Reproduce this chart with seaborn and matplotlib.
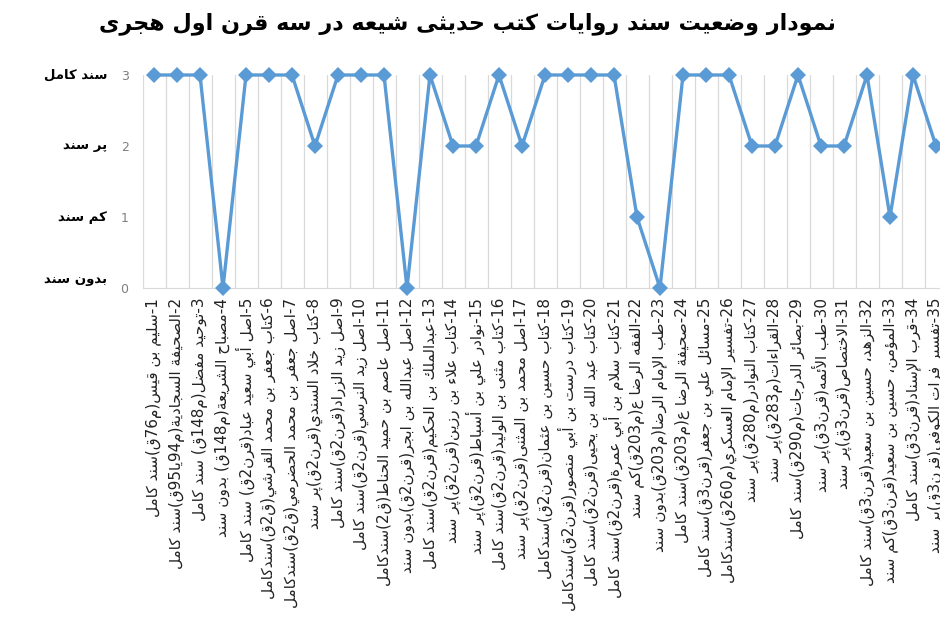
import re
import pandas as pd
import matplotlib
matplotlib.use("Agg")
from matplotlib import pyplot as plt
import matplotlib.transforms as mtransforms
import seaborn as sns

# data
books = [
    "1-سليم بن قيس(م76ق)سند كامل",
    "2-الصحيفة السجادية(م94يا95ق)سند كامل",
    "3-توحيد مفضل(م148ق) سند كامل",
    "4-مصباح الشريعة(م148ق) بدون سند",
    "5-اصل أبي سعيد عباد(قرن2ق) سند كامل",
    "6-كتاب جعفر بن محمد القرشي(ق2ق)سندكامل",
    "7-اصل جعفر بن محمد الحضرمي(ق2ق)سندكامل",
    "8-كتاب خلاد السندي(قرن2ق)پر سند",
    "9-اصل زيد الزراد(قرن2ق)سند كامل",
    "10-اصل زيد النرسي(قرن2ق)سند كامل",
    "11-اصل عاصم بن حميد الحناط(ق2)سندكامل",
    "12-اصل عبدالله بن ابجر(قرن2ق)بدون سند",
    "13-عبدالملك بن الحكيم(قرن2ق)سند كامل",
    "14-كتاب علاء بن رزين(قرن2ق)پر سند",
    "15-نوادر علي بن أسباط(قرن2ق)پر سند",
    "16-كتاب مثنى بن الوليد(قرن2ق)سند كامل",
    "17-اصل محمد بن المثنى(قرن2ق)پر سند",
    "18-كتاب حسين بن عثمان(قرن2ق)سندكامل",
    "19-كتاب درست بن أبي منصور(قرن2ق)سندكامل",
    "20-كتاب عبد الله بن يحيى(قرن2ق)سند كامل",
    "21-كتاب سلام بن أبي عمرة(قرن2ق)سند كامل",
    "22-الفقه الرضا ع(م203ق)كم سند",
    "23-طب الإمام الرضا(م203ق)بدون سند",
    "24-صحيفة الرضا ع(م203ق)سند كامل",
    "25-مسائل علي بن جعفر(قرن3ق)سند كامل",
    "26-تفسير الإمام العسكري(م260ق)سندكامل",
    "27-كتاب النوادر(م280ق)پر سند",
    "28-القراءات(م283ق)پر سند",
    "29-بصائر الدرجات(م290ق)سند كامل",
    "30-طب الأئمه(قرن3ق)پر سند",
    "31-الاختصاص(قرن3ق)پر سند",
    "32-الزهد، حسين بن سعيد(قرن3ق)سند كامل",
    "33-المؤمن، حسين بن سعيد(قرن3ق)كم سند",
    "34-قرب الإسناد(قرن3ق)سند كامل",
    "35-تفسير فرات الكوفي(قرن3ق)پر سند",
]
status = [3, 3, 3, 0, 3, 3, 3, 2, 3, 3, 3, 0, 3, 2, 2, 3, 2, 3, 3, 3,
          3, 1, 0, 3, 3, 3, 2, 2, 3, 2, 2, 3, 1, 3, 2]
level_values = [3, 2, 1, 0]
level_names = ["سند کامل", "پر سند", "کم سند", "بدون سند"]
title = "نمودار وضعیت سند روایات کتب حدیثی شیعه در سه قرن اول هجری"

# --- tiny arabic shaper + rtl reorder (matplotlib does no shaping) ---
FORMS = {  # isolated, final, initial, medial
    'ء': ('\uFE80', None, None, None),
    'آ': ('\uFE81', '\uFE82', None, None),
    'أ': ('\uFE83', '\uFE84', None, None),
    'ؤ': ('\uFE85', '\uFE86', None, None),
    'إ': ('\uFE87', '\uFE88', None, None),
    'ئ': ('\uFE89', '\uFE8A', '\uFE8B', '\uFE8C'),
    'ا': ('\uFE8D', '\uFE8E', None, None),
    'ب': ('\uFE8F', '\uFE90', '\uFE91', '\uFE92'),
    'ة': ('\uFE93', '\uFE94', None, None),
    'ت': ('\uFE95', '\uFE96', '\uFE97', '\uFE98'),
    'ث': ('\uFE99', '\uFE9A', '\uFE9B', '\uFE9C'),
    'ج': ('\uFE9D', '\uFE9E', '\uFE9F', '\uFEA0'),
    'ح': ('\uFEA1', '\uFEA2', '\uFEA3', '\uFEA4'),
    'خ': ('\uFEA5', '\uFEA6', '\uFEA7', '\uFEA8'),
    'د': ('\uFEA9', '\uFEAA', None, None),
    'ذ': ('\uFEAB', '\uFEAC', None, None),
    'ر': ('\uFEAD', '\uFEAE', None, None),
    'ز': ('\uFEAF', '\uFEB0', None, None),
    'س': ('\uFEB1', '\uFEB2', '\uFEB3', '\uFEB4'),
    'ش': ('\uFEB5', '\uFEB6', '\uFEB7', '\uFEB8'),
    'ص': ('\uFEB9', '\uFEBA', '\uFEBB', '\uFEBC'),
    'ض': ('\uFEBD', '\uFEBE', '\uFEBF', '\uFEC0'),
    'ط': ('\uFEC1', '\uFEC2', '\uFEC3', '\uFEC4'),
    'ظ': ('\uFEC5', '\uFEC6', '\uFEC7', '\uFEC8'),
    'ع': ('\uFEC9', '\uFECA', '\uFECB', '\uFECC'),
    'غ': ('\uFECD', '\uFECE', '\uFECF', '\uFED0'),
    'ف': ('\uFED1', '\uFED2', '\uFED3', '\uFED4'),
    'ق': ('\uFED5', '\uFED6', '\uFED7', '\uFED8'),
    'ك': ('\uFED9', '\uFEDA', '\uFEDB', '\uFEDC'),
    'ل': ('\uFEDD', '\uFEDE', '\uFEDF', '\uFEE0'),
    'م': ('\uFEE1', '\uFEE2', '\uFEE3', '\uFEE4'),
    'ن': ('\uFEE5', '\uFEE6', '\uFEE7', '\uFEE8'),
    'ه': ('\uFEE9', '\uFEEA', '\uFEEB', '\uFEEC'),
    'و': ('\uFEED', '\uFEEE', None, None),
    'ى': ('\uFEEF', '\uFEF0', None, None),
    'ي': ('\uFEF1', '\uFEF2', '\uFEF3', '\uFEF4'),
    'پ': ('\uFB56', '\uFB57', '\uFB58', '\uFB59'),
    'چ': ('\uFB7A', '\uFB7B', '\uFB7C', '\uFB7D'),
    'ژ': ('\uFB8A', '\uFB8B', None, None),
    'ک': ('\uFB8E', '\uFB8F', '\uFB90', '\uFB91'),
    'گ': ('\uFB92', '\uFB93', '\uFB94', '\uFB95'),
    'ی': ('\uFBFC', '\uFBFD', '\uFBFE', '\uFBFF'),
}
LAM_ALEF = {'ا': ('\uFEFB', '\uFEFC'), 'أ': ('\uFEF7', '\uFEF8'),
            'إ': ('\uFEF9', '\uFEFA'), 'آ': ('\uFEF5', '\uFEF6')}


def dual(c):
    return c in FORMS and FORMS[c][2] is not None


def joins_right(c):
    return c in FORMS and FORMS[c][1] is not None


def shape(s):
    out = []
    i = 0
    n = len(s)
    while i < n:
        c = s[i]
        if c not in FORMS:
            out.append(c)
            i += 1
            continue
        prev = s[i - 1] if i > 0 else ''
        link_prev = dual(prev) and joins_right(c)
        if c == 'ل' and i + 1 < n and s[i + 1] in LAM_ALEF:
            iso, fin = LAM_ALEF[s[i + 1]]
            out.append(fin if link_prev else iso)
            i += 2
            continue
        nxt = s[i + 1] if i + 1 < n else ''
        link_next = dual(c) and joins_right(nxt)
        f = FORMS[c]
        if link_prev and link_next:
            out.append(f[3])
        elif link_prev:
            out.append(f[1])
        elif link_next:
            out.append(f[2])
        else:
            out.append(f[0])
        i += 1
    return ''.join(out)


MIRROR = {'(': ')', ')': '('}


def rtl(s):
    tokens = re.findall(r'[0-9]+|.', shape(s))
    return ''.join(MIRROR.get(t, t) for t in reversed(tokens))


df = pd.DataFrame({"pos": range(1, len(books) + 1), "status": status})

sns.set_style("white")
plt.rcParams['font.family'] = ['DejaVu Sans']

fig = plt.figure(figsize=(9.4, 6.42), dpi=100)
ax = fig.add_axes([142.5 / 940, 1 - 288 / 642, 805 / 940, 213 / 642])

sns.lineplot(data=df, x="pos", y="status", ax=ax, color="#5B9BD5",
             linewidth=2.4, marker="D", markersize=8, markeredgewidth=0,
             clip_on=False, zorder=3)

ax.set_xlim(0.5, len(books) + 0.5)
ax.set_ylim(0, 3)
ax.set_xticks(df["pos"])
ax.set_xticklabels([rtl(b) for b in books], rotation=90, fontsize=11,
                   color="#222222")
ax.set_xticks([p + 0.5 for p in range(0, len(books) + 1)], minor=True)
ax.set_yticks(level_values)
ax.set_yticklabels([str(v) for v in level_values], fontsize=9, color="#7f7f7f")
ax.tick_params(axis="both", which="both", length=0)
ax.tick_params(axis="x", pad=7)
ax.tick_params(axis="y", pad=10)
ax.grid(False)
ax.grid(True, axis="x", which="minor", color="#d9d9d9", linewidth=0.9)
for side in ["top", "right", "left"]:
    ax.spines[side].set_visible(False)
ax.spines["bottom"].set_color("#d9d9d9")
ax.set_xlabel("")
ax.set_ylabel("")

trans = mtransforms.blended_transform_factory(ax.transAxes, ax.transData)
for v, name in zip(level_values, level_names):
    yy = v if v > 0 else 0.12
    ax.text(-0.044, yy, rtl(name), transform=trans, ha="right", va="center",
            fontsize=9.5, fontweight="bold", color="black")

fig.text(0.497, 1 - 24 / 642, rtl(title), ha="center", va="center",
         fontsize=16, fontweight="bold", color="black")

fig.savefig("out.png", dpi=100)
